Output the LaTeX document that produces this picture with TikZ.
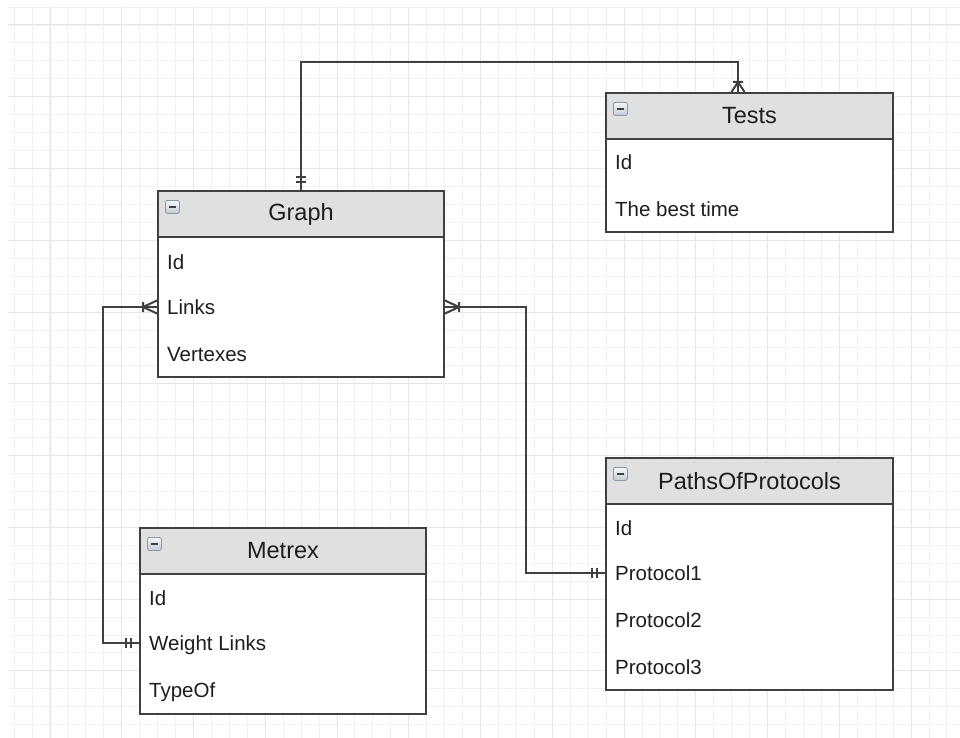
\documentclass[tikz,border=0pt]{standalone}
\usepackage{fontspec}
\setmainfont{Liberation Sans}
\usetikzlibrary{calc}

\definecolor{gridmajor}{HTML}{E6E6E6}
\definecolor{gridminor}{HTML}{F1F1F1}
\definecolor{boxline}{HTML}{404040}
\definecolor{headfill}{HTML}{E0E0E0}
\definecolor{ink}{HTML}{1E1E1E}
\definecolor{btnline}{HTML}{8E99A6}
\definecolor{btntop}{HTML}{F4F6F8}
\definecolor{btnbot}{HTML}{C3CAD3}

\tikzset{
  entity/.style={draw=boxline, line width=2pt, fill=white, anchor=north west, inner sep=0pt},
  enthead/.style={draw=boxline, line width=2pt, fill=headfill, anchor=north west,
    inner sep=0pt, minimum height=46pt, text=ink, font=\fontsize{23.5}{28}\selectfont},
  row/.style={anchor=west, inner sep=0pt, text height=14.5pt, text depth=0pt,
    text=ink, font=\fontsize{20.5}{24}\selectfont},
  btn/.style={draw=btnline, line width=0.8pt, rounded corners=2pt, top color=btntop,
    bottom color=btnbot, minimum width=14pt, minimum height=13pt, inner sep=0pt, anchor=north west},
  minus/.style={draw=ink!85, line width=1.8pt},
  conn/.style={draw=boxline, line width=2pt},
  % two bars: exactly one
  pics/mandone/.style={code={\draw[conn] (-8,-5) -- (-8,5) (-13,-5) -- (-13,5);}},
  % bar plus crow's foot: one or many
  pics/crowone/.style={code={\draw[conn] (-#1,-5) -- (-#1,5) (0,-6.5) -- (-#1,0) -- (0,6.5);}},
  pics/crowone/.default=14,
}

\begin{document}
\begin{tikzpicture}[x=1pt,y=-1pt]
\useasboundingbox (0,0) rectangle (960,738);
\fill[white] (0,0) rectangle (960,738);

% background grid
\foreach \i in {0,...,52} {
  \pgfmathsetmacro\gx{14.1+17.94*\i}
  \draw[gridminor, line width=1pt] (\gx,7) -- (\gx,738);
}
\foreach \j in {0,...,40} {
  \pgfmathsetmacro\gy{7.1+17.94*\j}
  \draw[gridminor, line width=1pt] (8,\gy) -- (960,\gy);
}
\foreach \i in {0,...,12} {
  \pgfmathsetmacro\gx{50+71.76*\i}
  \draw[gridmajor, line width=1pt] (\gx,7) -- (\gx,738);
}
\foreach \j in {0,...,9} {
  \pgfmathsetmacro\gy{25+71.76*\j}
  \draw[gridmajor, line width=1pt] (8,\gy) -- (960,\gy);
}

% Graph
\node[entity, minimum width=286pt, minimum height=186pt] (graph) at (157,190) {};
\node[enthead, minimum width=286pt] (graph-head) at (graph.north west) {Graph};
\node[btn] (graph-btn) at ([shift={(8,10)}]graph.north west) {};
\draw[minus] ([xshift=4pt]graph-btn.west) -- ([xshift=-4pt]graph-btn.east);
\node[row] (graph-id) at (167,262) {Id};
\node[row] (graph-links) at (167,307) {Links};
\node[row] (graph-vertexes) at (167,354) {Vertexes};

% Tests
\node[entity, minimum width=287pt, minimum height=139pt] (tests) at (605,92) {};
\node[enthead, minimum width=287pt] (tests-head) at (tests.north west) {Tests};
\node[btn] (tests-btn) at ([shift={(8,10)}]tests.north west) {};
\draw[minus] ([xshift=4pt]tests-btn.west) -- ([xshift=-4pt]tests-btn.east);
\node[row] (tests-id) at (615,162) {Id};
\node[row] (tests-best) at (615,209) {The best time};

% PathsOfProtocols
\node[entity, minimum width=287pt, minimum height=232pt] (paths) at (605,457) {};
\node[enthead, minimum width=287pt] (paths-head) at (paths.north west) {PathsOfProtocols};
\node[btn] (paths-btn) at ([shift={(8,10)}]paths.north west) {};
\draw[minus] ([xshift=4pt]paths-btn.west) -- ([xshift=-4pt]paths-btn.east);
\node[row] (paths-id) at (615,528) {Id};
\node[row] (paths-p1) at (615,573) {Protocol1};
\node[row] (paths-p2) at (615,620) {Protocol2};
\node[row] (paths-p3) at (615,667) {Protocol3};

% Metrex
\node[entity, minimum width=286pt, minimum height=186pt] (metrex) at (139,527) {};
\node[enthead, minimum width=286pt] (metrex-head) at (metrex.north west) {Metrex};
\node[btn] (metrex-btn) at ([shift={(8,10)}]metrex.north west) {};
\draw[minus] ([xshift=4pt]metrex-btn.west) -- ([xshift=-4pt]metrex-btn.east);
\node[row] (metrex-id) at (149,598) {Id};
\node[row] (metrex-weight) at (149,643) {Weight Links};
\node[row] (metrex-type) at (149,690) {TypeOf};

% relationships
\coordinate (tests-in) at ([xshift=-11.5pt]tests.north);
\draw[conn] (graph.north) -- ++(0,-128) -| (tests-in);
\draw[conn] (graph.west |- graph-links) -- ++(-54,0) |- (metrex.west |- metrex-weight);
\draw[conn] (graph.east |- graph-links) -- ++(81,0) |- (paths.west |- paths-p1);

\path (graph.north) pic[rotate=-90] {mandone};
\path (tests-in) pic[rotate=-90] {crowone=10};
\path (graph.west |- graph-links) pic {crowone};
\path (graph.east |- graph-links) pic[rotate=180] {crowone};
\path (metrex.west |- metrex-weight) pic {mandone};
\path (paths.west |- paths-p1) pic {mandone};
\end{tikzpicture}
\end{document}
